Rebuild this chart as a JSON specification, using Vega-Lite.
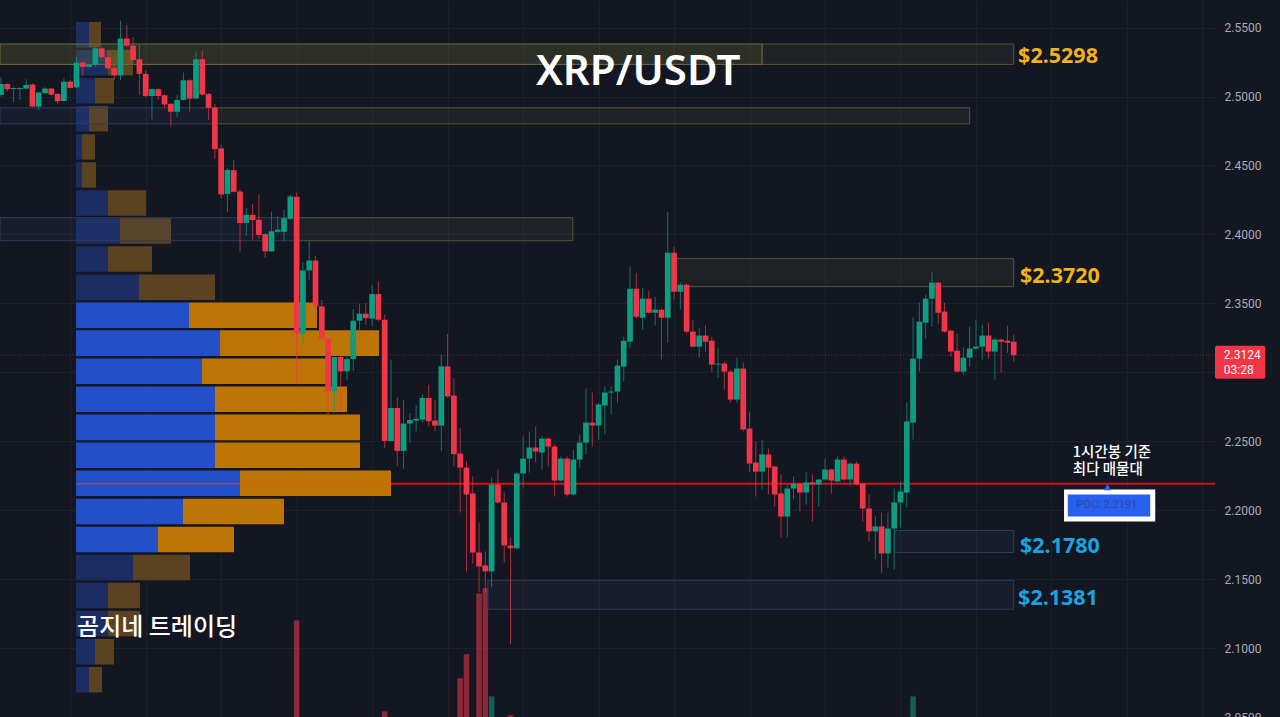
{
  "$schema": "https://vega.github.io/schema/vega-lite/v6.json",
  "width": 1215,
  "height": 717,
  "autosize": {"type": "none"},
  "padding": {"left": 0, "top": 0, "right": 65, "bottom": 0},
  "background": "#131722",
  "config": {"view": {"stroke": null}},
  "datasets": {
    "candles": [
      {"i":0,"o":2.5012,"h":2.5140,"l":2.4999,"c":2.5091,"d":"up"},
      {"i":1,"o":2.5091,"h":2.5096,"l":2.5036,"c":2.5053,"d":"down"},
      {"i":2,"o":2.5055,"h":2.5067,"l":2.4956,"c":2.5062,"d":"up"},
      {"i":3,"o":2.5055,"h":2.5067,"l":2.4975,"c":2.5062,"d":"up"},
      {"i":4,"o":2.5058,"h":2.5125,"l":2.5053,"c":2.5084,"d":"up"},
      {"i":5,"o":2.5087,"h":2.5096,"l":2.4922,"c":2.4927,"d":"down"},
      {"i":6,"o":2.4927,"h":2.5036,"l":2.4903,"c":2.5029,"d":"up"},
      {"i":7,"o":2.5024,"h":2.5067,"l":2.5019,"c":2.5058,"d":"up"},
      {"i":8,"o":2.5058,"h":2.5065,"l":2.5007,"c":2.5014,"d":"down"},
      {"i":9,"o":2.5019,"h":2.5024,"l":2.4947,"c":2.4966,"d":"down"},
      {"i":10,"o":2.4968,"h":2.5132,"l":2.4963,"c":2.5108,"d":"up"},
      {"i":11,"o":2.5108,"h":2.5120,"l":2.5058,"c":2.5062,"d":"down"},
      {"i":12,"o":2.5067,"h":2.5289,"l":2.5060,"c":2.5246,"d":"up"},
      {"i":13,"o":2.5246,"h":2.5256,"l":2.5149,"c":2.5215,"d":"down"},
      {"i":14,"o":2.5215,"h":2.5236,"l":2.5210,"c":2.5229,"d":"up"},
      {"i":15,"o":2.5229,"h":2.5362,"l":2.5217,"c":2.5350,"d":"up"},
      {"i":16,"o":2.5350,"h":2.5357,"l":2.5277,"c":2.5285,"d":"down"},
      {"i":17,"o":2.5285,"h":2.5338,"l":2.5193,"c":2.5205,"d":"down"},
      {"i":18,"o":2.5207,"h":2.5229,"l":2.5120,"c":2.5154,"d":"down"},
      {"i":19,"o":2.5154,"h":2.5550,"l":2.5120,"c":2.5420,"d":"up"},
      {"i":20,"o":2.5420,"h":2.5519,"l":2.5362,"c":2.5369,"d":"down"},
      {"i":21,"o":2.5369,"h":2.5430,"l":2.5246,"c":2.5265,"d":"down"},
      {"i":22,"o":2.5270,"h":2.5374,"l":2.5012,"c":2.5164,"d":"down"},
      {"i":23,"o":2.5164,"h":2.5193,"l":2.4995,"c":2.5004,"d":"down"},
      {"i":24,"o":2.5004,"h":2.5058,"l":2.4835,"c":2.5053,"d":"up"},
      {"i":25,"o":2.5053,"h":2.5058,"l":2.4975,"c":2.5004,"d":"down"},
      {"i":26,"o":2.5009,"h":2.5014,"l":2.4915,"c":2.4942,"d":"down"},
      {"i":27,"o":2.4947,"h":2.4951,"l":2.4782,"c":2.4889,"d":"down"},
      {"i":28,"o":2.4889,"h":2.5012,"l":2.4850,"c":2.4975,"d":"up"},
      {"i":29,"o":2.4975,"h":2.5174,"l":2.4971,"c":2.5118,"d":"up"},
      {"i":30,"o":2.5118,"h":2.5125,"l":2.4891,"c":2.4985,"d":"down"},
      {"i":31,"o":2.4985,"h":2.5326,"l":2.4980,"c":2.5270,"d":"up"},
      {"i":32,"o":2.5270,"h":2.5333,"l":2.5007,"c":2.5014,"d":"down"},
      {"i":33,"o":2.5019,"h":2.5024,"l":2.4831,"c":2.4918,"d":"down"},
      {"i":34,"o":2.4920,"h":2.4947,"l":2.4546,"c":2.4618,"d":"down"},
      {"i":35,"o":2.4623,"h":2.4652,"l":2.4263,"c":2.4290,"d":"down"},
      {"i":36,"o":2.4294,"h":2.4480,"l":2.4162,"c":2.4468,"d":"up"},
      {"i":37,"o":2.4466,"h":2.4541,"l":2.4304,"c":2.4309,"d":"down"},
      {"i":38,"o":2.4311,"h":2.4328,"l":2.3877,"c":2.4082,"d":"down"},
      {"i":39,"o":2.4084,"h":2.4191,"l":2.3990,"c":2.4142,"d":"up"},
      {"i":40,"o":2.4142,"h":2.4222,"l":2.3961,"c":2.4104,"d":"down"},
      {"i":41,"o":2.4106,"h":2.4292,"l":2.3966,"c":2.3997,"d":"down"},
      {"i":42,"o":2.4002,"h":2.4010,"l":2.3828,"c":2.3877,"d":"down"},
      {"i":43,"o":2.3877,"h":2.4166,"l":2.3872,"c":2.4022,"d":"up"},
      {"i":44,"o":2.4019,"h":2.4130,"l":2.4010,"c":2.4034,"d":"up"},
      {"i":45,"o":2.4019,"h":2.4179,"l":2.3949,"c":2.4118,"d":"up"},
      {"i":46,"o":2.4113,"h":2.4287,"l":2.4106,"c":2.4275,"d":"up"},
      {"i":47,"o":2.4273,"h":2.4302,"l":2.2925,"c":2.3280,"d":"down"},
      {"i":48,"o":2.3278,"h":2.3797,"l":2.3200,"c":2.3739,"d":"up"},
      {"i":49,"o":2.3739,"h":2.3954,"l":2.3671,"c":2.3811,"d":"up"},
      {"i":50,"o":2.3811,"h":2.3845,"l":2.3466,"c":2.3478,"d":"down"},
      {"i":51,"o":2.3478,"h":2.3526,"l":2.3237,"c":2.3244,"d":"down"},
      {"i":52,"o":2.3244,"h":2.3249,"l":2.2681,"c":2.2862,"d":"down"},
      {"i":53,"o":2.2862,"h":2.3111,"l":2.2705,"c":2.3111,"d":"up"},
      {"i":54,"o":2.3111,"h":2.3116,"l":2.2717,"c":2.3007,"d":"down"},
      {"i":55,"o":2.3007,"h":2.3121,"l":2.2947,"c":2.3096,"d":"up"},
      {"i":56,"o":2.3096,"h":2.3459,"l":2.3007,"c":2.3374,"d":"up"},
      {"i":57,"o":2.3374,"h":2.3497,"l":2.3237,"c":2.3425,"d":"up"},
      {"i":58,"o":2.3425,"h":2.3502,"l":2.3345,"c":2.3393,"d":"down"},
      {"i":59,"o":2.3389,"h":2.3635,"l":2.3333,"c":2.3567,"d":"up"},
      {"i":60,"o":2.3567,"h":2.3659,"l":2.3369,"c":2.3381,"d":"down"},
      {"i":61,"o":2.3381,"h":2.3418,"l":2.2452,"c":2.2502,"d":"down"},
      {"i":62,"o":2.2502,"h":2.3092,"l":2.2500,"c":2.2741,"d":"up"},
      {"i":63,"o":2.2741,"h":2.2819,"l":2.2319,"c":2.2430,"d":"down"},
      {"i":64,"o":2.2430,"h":2.2797,"l":2.2300,"c":2.2628,"d":"up"},
      {"i":65,"o":2.2628,"h":2.2705,"l":2.2488,"c":2.2654,"d":"up"},
      {"i":66,"o":2.2650,"h":2.2761,"l":2.2572,"c":2.2662,"d":"up"},
      {"i":67,"o":2.2657,"h":2.2838,"l":2.2638,"c":2.2814,"d":"up"},
      {"i":68,"o":2.2814,"h":2.2910,"l":2.2609,"c":2.2645,"d":"down"},
      {"i":69,"o":2.2650,"h":2.2802,"l":2.2572,"c":2.2613,"d":"down"},
      {"i":70,"o":2.2613,"h":2.3128,"l":2.2427,"c":2.3043,"d":"up"},
      {"i":71,"o":2.3043,"h":2.3278,"l":2.2814,"c":2.2826,"d":"down"},
      {"i":72,"o":2.2831,"h":2.2959,"l":2.2319,"c":2.2406,"d":"down"},
      {"i":73,"o":2.2411,"h":2.2599,"l":2.1983,"c":2.2309,"d":"down"},
      {"i":74,"o":2.2309,"h":2.2353,"l":2.1556,"c":2.2114,"d":"down"},
      {"i":75,"o":2.2121,"h":2.2244,"l":2.1614,"c":2.1693,"d":"down"},
      {"i":76,"o":2.1693,"h":2.1911,"l":2.1404,"c":2.1592,"d":"down"},
      {"i":77,"o":2.1599,"h":2.1701,"l":2.1404,"c":2.1556,"d":"down"},
      {"i":78,"o":2.1556,"h":2.2237,"l":2.1440,"c":2.2186,"d":"up"},
      {"i":79,"o":2.2186,"h":2.2295,"l":2.2049,"c":2.2056,"d":"down"},
      {"i":80,"o":2.2056,"h":2.2128,"l":2.1621,"c":2.1744,"d":"down"},
      {"i":81,"o":2.1744,"h":2.1802,"l":2.1027,"c":2.1723,"d":"down"},
      {"i":82,"o":2.1723,"h":2.2273,"l":2.1715,"c":2.2266,"d":"up"},
      {"i":83,"o":2.2266,"h":2.2534,"l":2.2164,"c":2.2374,"d":"up"},
      {"i":84,"o":2.2374,"h":2.2570,"l":2.2273,"c":2.2454,"d":"up"},
      {"i":85,"o":2.2454,"h":2.2606,"l":2.2346,"c":2.2425,"d":"down"},
      {"i":86,"o":2.2418,"h":2.2534,"l":2.2295,"c":2.2519,"d":"up"},
      {"i":87,"o":2.2519,"h":2.2527,"l":2.2317,"c":2.2461,"d":"down"},
      {"i":88,"o":2.2461,"h":2.2476,"l":2.2099,"c":2.2215,"d":"down"},
      {"i":89,"o":2.2215,"h":2.2389,"l":2.2208,"c":2.2374,"d":"up"},
      {"i":90,"o":2.2374,"h":2.2389,"l":2.2099,"c":2.2114,"d":"down"},
      {"i":91,"o":2.2114,"h":2.2440,"l":2.2106,"c":2.2367,"d":"up"},
      {"i":92,"o":2.2367,"h":2.2548,"l":2.2309,"c":2.2490,"d":"up"},
      {"i":93,"o":2.2490,"h":2.2882,"l":2.2404,"c":2.2635,"d":"up"},
      {"i":94,"o":2.2635,"h":2.2853,"l":2.2461,"c":2.2614,"d":"down"},
      {"i":95,"o":2.2614,"h":2.2780,"l":2.2512,"c":2.2766,"d":"up"},
      {"i":96,"o":2.2759,"h":2.2896,"l":2.2548,"c":2.2853,"d":"up"},
      {"i":97,"o":2.2853,"h":2.2896,"l":2.2693,"c":2.2860,"d":"up"},
      {"i":98,"o":2.2860,"h":2.3092,"l":2.2780,"c":2.3048,"d":"up"},
      {"i":99,"o":2.3041,"h":2.3258,"l":2.2932,"c":2.3229,"d":"up"},
      {"i":100,"o":2.3222,"h":2.3766,"l":2.3179,"c":2.3606,"d":"up"},
      {"i":101,"o":2.3606,"h":2.3722,"l":2.3389,"c":2.3403,"d":"down"},
      {"i":102,"o":2.3396,"h":2.3613,"l":2.3309,"c":2.3534,"d":"up"},
      {"i":103,"o":2.3534,"h":2.3592,"l":2.3425,"c":2.3432,"d":"down"},
      {"i":104,"o":2.3432,"h":2.3548,"l":2.3338,"c":2.3454,"d":"up"},
      {"i":105,"o":2.3454,"h":2.3461,"l":2.3092,"c":2.3396,"d":"down"},
      {"i":106,"o":2.3396,"h":2.4164,"l":2.3215,"c":2.3867,"d":"up"},
      {"i":107,"o":2.3867,"h":2.3910,"l":2.3527,"c":2.3584,"d":"down"},
      {"i":108,"o":2.3584,"h":2.3650,"l":2.3454,"c":2.3635,"d":"up"},
      {"i":109,"o":2.3635,"h":2.3642,"l":2.3280,"c":2.3295,"d":"down"},
      {"i":110,"o":2.3295,"h":2.3382,"l":2.3180,"c":2.3186,"d":"down"},
      {"i":111,"o":2.3186,"h":2.3324,"l":2.3106,"c":2.3266,"d":"up"},
      {"i":112,"o":2.3266,"h":2.3338,"l":2.3150,"c":2.3222,"d":"down"},
      {"i":113,"o":2.3229,"h":2.3258,"l":2.3005,"c":2.3056,"d":"down"},
      {"i":114,"o":2.3056,"h":2.3179,"l":2.2961,"c":2.3063,"d":"up"},
      {"i":115,"o":2.3063,"h":2.3077,"l":2.2874,"c":2.3005,"d":"down"},
      {"i":116,"o":2.3005,"h":2.3019,"l":2.2780,"c":2.2802,"d":"down"},
      {"i":117,"o":2.2802,"h":2.3106,"l":2.2780,"c":2.3027,"d":"up"},
      {"i":118,"o":2.3027,"h":2.3070,"l":2.2570,"c":2.2585,"d":"down"},
      {"i":119,"o":2.2592,"h":2.2715,"l":2.2280,"c":2.2338,"d":"down"},
      {"i":120,"o":2.2346,"h":2.2498,"l":2.2099,"c":2.2280,"d":"down"},
      {"i":121,"o":2.2280,"h":2.2512,"l":2.2150,"c":2.2404,"d":"up"},
      {"i":122,"o":2.2404,"h":2.2447,"l":2.2114,"c":2.2309,"d":"down"},
      {"i":123,"o":2.2317,"h":2.2320,"l":2.2027,"c":2.2114,"d":"down"},
      {"i":124,"o":2.2121,"h":2.2259,"l":2.1802,"c":2.1954,"d":"down"},
      {"i":125,"o":2.1954,"h":2.2186,"l":2.1802,"c":2.2157,"d":"up"},
      {"i":126,"o":2.2157,"h":2.2244,"l":2.2078,"c":2.2193,"d":"up"},
      {"i":127,"o":2.2193,"h":2.2200,"l":2.1991,"c":2.2128,"d":"down"},
      {"i":128,"o":2.2128,"h":2.2280,"l":2.2041,"c":2.2201,"d":"up"},
      {"i":129,"o":2.2201,"h":2.2259,"l":2.1918,"c":2.2186,"d":"down"},
      {"i":130,"o":2.2186,"h":2.2230,"l":2.2027,"c":2.2222,"d":"up"},
      {"i":131,"o":2.2222,"h":2.2374,"l":2.2215,"c":2.2295,"d":"up"},
      {"i":132,"o":2.2295,"h":2.2302,"l":2.2121,"c":2.2215,"d":"down"},
      {"i":133,"o":2.2208,"h":2.2389,"l":2.2208,"c":2.2367,"d":"up"},
      {"i":134,"o":2.2367,"h":2.2389,"l":2.2215,"c":2.2222,"d":"down"},
      {"i":135,"o":2.2222,"h":2.2346,"l":2.2172,"c":2.2338,"d":"up"},
      {"i":136,"o":2.2338,"h":2.2353,"l":2.2179,"c":2.2186,"d":"down"},
      {"i":137,"o":2.2193,"h":2.2200,"l":2.1918,"c":2.2012,"d":"down"},
      {"i":138,"o":2.2012,"h":2.2114,"l":2.1773,"c":2.1846,"d":"down"},
      {"i":139,"o":2.1846,"h":2.1954,"l":2.1643,"c":2.1882,"d":"up"},
      {"i":140,"o":2.1882,"h":2.1983,"l":2.1541,"c":2.1686,"d":"down"},
      {"i":141,"o":2.1686,"h":2.1983,"l":2.1585,"c":2.1867,"d":"up"},
      {"i":142,"o":2.1867,"h":2.2157,"l":2.1570,"c":2.2056,"d":"up"},
      {"i":143,"o":2.2056,"h":2.2208,"l":2.1875,"c":2.2135,"d":"up"},
      {"i":144,"o":2.2128,"h":2.2780,"l":2.2020,"c":2.2643,"d":"up"},
      {"i":145,"o":2.2635,"h":2.3396,"l":2.2512,"c":2.3099,"d":"up"},
      {"i":146,"o":2.3099,"h":2.3505,"l":2.3005,"c":2.3367,"d":"up"},
      {"i":147,"o":2.3360,"h":2.3563,"l":2.3244,"c":2.3534,"d":"up"},
      {"i":148,"o":2.3534,"h":2.3729,"l":2.3331,"c":2.3650,"d":"up"},
      {"i":149,"o":2.3650,"h":2.3655,"l":2.3353,"c":2.3432,"d":"down"},
      {"i":150,"o":2.3440,"h":2.3505,"l":2.3287,"c":2.3295,"d":"down"},
      {"i":151,"o":2.3302,"h":2.3309,"l":2.3114,"c":2.3150,"d":"down"},
      {"i":152,"o":2.3157,"h":2.3280,"l":2.2998,"c":2.3005,"d":"down"},
      {"i":153,"o":2.3005,"h":2.3179,"l":2.2983,"c":2.3106,"d":"up"},
      {"i":154,"o":2.3106,"h":2.3331,"l":2.3041,"c":2.3172,"d":"up"},
      {"i":155,"o":2.3172,"h":2.3382,"l":2.3164,"c":2.3186,"d":"up"},
      {"i":156,"o":2.3186,"h":2.3345,"l":2.3092,"c":2.3266,"d":"up"},
      {"i":157,"o":2.3266,"h":2.3360,"l":2.3099,"c":2.3150,"d":"down"},
      {"i":158,"o":2.3150,"h":2.3251,"l":2.2947,"c":2.3237,"d":"up"},
      {"i":159,"o":2.3237,"h":2.3244,"l":2.2998,"c":2.3222,"d":"down"},
      {"i":160,"o":2.3229,"h":2.3338,"l":2.3142,"c":2.3215,"d":"down"},
      {"i":161,"o":2.3222,"h":2.3273,"l":2.3077,"c":2.3124,"d":"down"}
    ]
  },
  "encoding": {
    "x": {
      "field": "i",
      "type": "quantitative",
      "scale": {"domain": [-0.159, 193], "nice": false, "zero": false, "padding": 0},
      "axis": {
        "title": null,
        "labels": false,
        "ticks": false,
        "domain": false,
        "grid": true,
        "gridColor": "#1d212c",
        "values": [11, 23, 35, 47, 59, 71, 83, 95, 107, 119, 131, 143, 155, 167, 179, 191]
      }
    },
    "y": {
      "field": "p",
      "type": "quantitative",
      "scale": {"domain": [2.05, 2.57], "nice": false, "zero": false, "padding": 0},
      "axis": {
        "orient": "right",
        "title": null,
        "domain": false,
        "ticks": false,
        "grid": true,
        "gridColor": "#1d212c",
        "labelColor": "#a9acb5",
        "labelFont": "Roboto",
        "labelFontSize": 12,
        "labelPadding": 9,
        "labelBound": false,
        "format": ".4f",
        "labelExpr": "datum.label == '2.3000' ? '' : datum.label",
        "values": [2.05, 2.1, 2.15, 2.2, 2.25, 2.3, 2.35, 2.4, 2.45, 2.5, 2.55]
      }
    }
  },
  "layer": [
    {
      "data": {
        "values": [
          {"i": 47, "p": 2.1201, "p2": 2.05, "d": "down"},
          {"i": 61, "p": 2.0541, "p2": 2.05, "d": "down"},
          {"i": 73, "p": 2.0781, "p2": 2.05, "d": "down"},
          {"i": 74, "p": 2.0955, "p2": 2.05, "d": "down"},
          {"i": 76, "p": 2.1396, "p2": 2.05, "d": "down"},
          {"i": 77, "p": 2.1433, "p2": 2.05, "d": "down"},
          {"i": 78, "p": 2.065, "p2": 2.05, "d": "up"},
          {"i": 81, "p": 2.0513, "p2": 2.05, "d": "down"},
          {"i": 145, "p": 2.065, "p2": 2.05, "d": "up"}
        ]
      },
      "mark": {"type": "bar", "size": 5.5, "opacity": 0.55},
      "encoding": {
        "y2": {"field": "p2"},
        "color": {
          "field": "d",
          "type": "nominal",
          "legend": null,
          "scale": {
            "domain": ["up", "down", "vaBuy", "vaSell", "buy", "sell"],
            "range": ["#0f9d82", "#f2364a", "#2350c8", "#bd7605", "#1b2d63", "#5b4220"]
          }
        }
      }
    },
    {
      "data": {"values": [{"i": -0.159, "i2": 193, "p": 2.3124}]},
      "mark": {"type": "rule", "color": "#6b2a36", "strokeWidth": 1, "strokeDash": [1, 2]},
      "encoding": {"x2": {"field": "i2"}}
    },
    {
      "data": {"values": [{"i": 62, "i2": 193, "p": 2.2191}]},
      "mark": {"type": "rule", "color": "#d40f18", "strokeWidth": 2},
      "encoding": {"x2": {"field": "i2"}}
    },
    {
      "data": {
        "values": [
          {"p": 2.5541, "p2": 2.5356, "i": 11.92, "i2": 13.99, "part": "buy"},
          {"p": 2.5541, "p2": 2.5356, "i": 13.99, "i2": 15.9, "part": "sell"},
          {"p": 2.5338, "p2": 2.5153, "i": 11.92, "i2": 17.01, "part": "buy"},
          {"p": 2.5338, "p2": 2.5153, "i": 17.01, "i2": 20.99, "part": "sell"},
          {"p": 2.5134, "p2": 2.4949, "i": 11.92, "i2": 14.94, "part": "buy"},
          {"p": 2.5134, "p2": 2.4949, "i": 14.94, "i2": 17.97, "part": "sell"},
          {"p": 2.4931, "p2": 2.4746, "i": 11.92, "i2": 13.99, "part": "buy"},
          {"p": 2.4931, "p2": 2.4746, "i": 13.99, "i2": 17.01, "part": "sell"},
          {"p": 2.4727, "p2": 2.4542, "i": 11.92, "i2": 12.88, "part": "buy"},
          {"p": 2.4727, "p2": 2.4542, "i": 12.88, "i2": 14.94, "part": "sell"},
          {"p": 2.4524, "p2": 2.4339, "i": 11.92, "i2": 12.88, "part": "buy"},
          {"p": 2.4524, "p2": 2.4339, "i": 12.88, "i2": 15.1, "part": "sell"},
          {"p": 2.4321, "p2": 2.4136, "i": 11.92, "i2": 17.01, "part": "buy"},
          {"p": 2.4321, "p2": 2.4136, "i": 17.01, "i2": 23.05, "part": "sell"},
          {"p": 2.4117, "p2": 2.3932, "i": 11.92, "i2": 18.92, "part": "buy"},
          {"p": 2.4117, "p2": 2.3932, "i": 18.92, "i2": 27.03, "part": "sell"},
          {"p": 2.3914, "p2": 2.3729, "i": 11.92, "i2": 17.01, "part": "buy"},
          {"p": 2.3914, "p2": 2.3729, "i": 17.01, "i2": 24.01, "part": "sell"},
          {"p": 2.371, "p2": 2.3525, "i": 11.92, "i2": 21.94, "part": "buy"},
          {"p": 2.371, "p2": 2.3525, "i": 21.94, "i2": 34.02, "part": "sell"},
          {"p": 2.3507, "p2": 2.3322, "i": 11.92, "i2": 29.89, "part": "vaBuy"},
          {"p": 2.3507, "p2": 2.3322, "i": 29.89, "i2": 50.24, "part": "vaSell"},
          {"p": 2.3304, "p2": 2.3119, "i": 11.92, "i2": 34.82, "part": "vaBuy"},
          {"p": 2.3304, "p2": 2.3119, "i": 34.82, "i2": 60.1, "part": "vaSell"},
          {"p": 2.31, "p2": 2.2915, "i": 11.92, "i2": 31.96, "part": "vaBuy"},
          {"p": 2.31, "p2": 2.2915, "i": 31.96, "i2": 51.67, "part": "vaSell"},
          {"p": 2.2897, "p2": 2.2712, "i": 11.92, "i2": 34.02, "part": "vaBuy"},
          {"p": 2.2897, "p2": 2.2712, "i": 34.02, "i2": 55.01, "part": "vaSell"},
          {"p": 2.2693, "p2": 2.2508, "i": 11.92, "i2": 34.02, "part": "vaBuy"},
          {"p": 2.2693, "p2": 2.2508, "i": 34.02, "i2": 57.07, "part": "vaSell"},
          {"p": 2.249, "p2": 2.2305, "i": 11.92, "i2": 34.02, "part": "vaBuy"},
          {"p": 2.249, "p2": 2.2305, "i": 34.02, "i2": 57.07, "part": "vaSell"},
          {"p": 2.2287, "p2": 2.2102, "i": 11.92, "i2": 38, "part": "vaBuy"},
          {"p": 2.2287, "p2": 2.2102, "i": 38, "i2": 62, "part": "vaSell"},
          {"p": 2.2083, "p2": 2.1898, "i": 11.92, "i2": 28.93, "part": "vaBuy"},
          {"p": 2.2083, "p2": 2.1898, "i": 28.93, "i2": 44.99, "part": "vaSell"},
          {"p": 2.188, "p2": 2.1695, "i": 11.92, "i2": 24.96, "part": "vaBuy"},
          {"p": 2.188, "p2": 2.1695, "i": 24.96, "i2": 37.04, "part": "vaSell"},
          {"p": 2.1676, "p2": 2.1491, "i": 11.92, "i2": 20.99, "part": "buy"},
          {"p": 2.1676, "p2": 2.1491, "i": 20.99, "i2": 30.05, "part": "sell"},
          {"p": 2.1473, "p2": 2.1288, "i": 11.92, "i2": 17.01, "part": "buy"},
          {"p": 2.1473, "p2": 2.1288, "i": 17.01, "i2": 22.1, "part": "sell"},
          {"p": 2.127, "p2": 2.1085, "i": 11.92, "i2": 17.01, "part": "buy"},
          {"p": 2.127, "p2": 2.1085, "i": 17.01, "i2": 22.1, "part": "sell"},
          {"p": 2.1066, "p2": 2.0881, "i": 11.92, "i2": 14.94, "part": "buy"},
          {"p": 2.1066, "p2": 2.0881, "i": 14.94, "i2": 17.97, "part": "sell"},
          {"p": 2.0863, "p2": 2.0678, "i": 11.92, "i2": 13.99, "part": "buy"},
          {"p": 2.0863, "p2": 2.0678, "i": 13.99, "i2": 16.06, "part": "sell"}
        ]
      },
      "mark": {"type": "rect"},
      "encoding": {
        "x2": {"field": "i2"},
        "y2": {"field": "p2"},
        "color": {"field": "part", "type": "nominal", "legend": null}
      }
    },
    {
      "data": {"values": [{"i": 11.92, "i2": 62, "p": 2.2191}]},
      "mark": {"type": "rule", "color": "#f0500a", "strokeWidth": 1.5, "opacity": 0.5},
      "encoding": {"x2": {"field": "i2"}}
    },
    {
      "data": {
        "values": [
          {"i": -0.159, "i2": 121, "p": 2.5381, "p2": 2.5233, "kind": "strong"},
          {"i": 121, "i2": 161, "p": 2.5381, "p2": 2.5233, "kind": "olive"},
          {"i": -0.159, "i2": 34, "p": 2.4918, "p2": 2.4802, "kind": "blue"},
          {"i": 34, "i2": 154, "p": 2.4918, "p2": 2.4802, "kind": "olive"},
          {"i": -0.159, "i2": 47, "p": 2.4121, "p2": 2.3954, "kind": "blue"},
          {"i": 47, "i2": 90.9, "p": 2.4121, "p2": 2.3954, "kind": "olive"},
          {"i": 107.3, "i2": 161, "p": 2.3824, "p2": 2.3621, "kind": "olive"},
          {"i": 142.1, "i2": 161, "p": 2.1853, "p2": 2.1693, "kind": "blue"},
          {"i": 77.4, "i2": 161, "p": 2.1491, "p2": 2.1281, "kind": "blue"}
        ]
      },
      "mark": {"type": "rect", "strokeWidth": 1},
      "encoding": {
        "x2": {"field": "i2"},
        "y2": {"field": "p2"},
        "fill": {
          "field": "kind",
          "type": "nominal",
          "legend": null,
          "scale": {
            "domain": ["strong", "olive", "blue"],
            "range": ["rgba(135,135,50,0.22)", "rgba(130,130,70,0.11)", "rgba(70,100,170,0.09)"]
          }
        },
        "stroke": {
          "field": "kind",
          "type": "nominal",
          "legend": null,
          "scale": {
            "domain": ["strong", "olive", "blue"],
            "range": ["#6d6d3c", "#55553a", "#303d56"]
          }
        }
      }
    },
    {
      "data": {"name": "candles"},
      "mark": {"type": "rule", "strokeWidth": 1, "opacity": 0.7},
      "encoding": {
        "y": {"field": "l", "type": "quantitative"},
        "y2": {"field": "h"},
        "color": {"field": "d", "type": "nominal", "legend": null}
      }
    },
    {
      "data": {"name": "candles"},
      "mark": {"type": "bar", "size": 5.7},
      "encoding": {
        "y": {"field": "o", "type": "quantitative"},
        "y2": {"field": "c"},
        "color": {"field": "d", "type": "nominal", "legend": null}
      }
    },
    {
      "data": {"values": [{"i": 193, "i2": 201, "p": 2.3193, "p2": 2.2954}]},
      "mark": {"type": "rect", "color": "#f23645", "cornerRadius": 2},
      "encoding": {"x2": {"field": "i2"}, "y2": {"field": "p2"}}
    },
    {
      "data": {
        "values": [
          {"i": 194.4, "p": 2.3124, "label": "2.3124"},
          {"i": 194.4, "p": 2.3019, "label": "03:28"}
        ]
      },
      "mark": {"type": "text", "align": "left", "baseline": "middle", "font": "Roboto", "fontSize": 12, "color": "#f5f5f5"},
      "encoding": {"text": {"field": "label"}}
    },
    {
      "data": {"values": [{"i": 169, "i2": 183.5, "p": 2.215, "p2": 2.1918}]},
      "mark": {"type": "rect", "color": "#ffffff"},
      "encoding": {"x2": {"field": "i2"}, "y2": {"field": "p2"}}
    },
    {
      "data": {"values": [{"i": 169.6, "i2": 182.7, "p": 2.2114, "p2": 2.1954}]},
      "mark": {"type": "rect", "color": "#2860f0"},
      "encoding": {"x2": {"field": "i2"}, "y2": {"field": "p2"}}
    },
    {
      "data": {"values": [{"i": 175.9, "p": 2.2168}]},
      "mark": {"type": "point", "shape": "triangle-up", "filled": true, "color": "#2962ff", "size": 55, "opacity": 1}
    },
    {
      "data": {"values": [{"i": 175.8, "p": 2.2041, "label": "POC: 2.2191"}]},
      "mark": {"type": "text", "align": "center", "baseline": "middle", "font": "Roboto", "fontSize": 11, "color": "#2f4a9c"},
      "encoding": {"text": {"field": "label"}}
    },
    {
      "data": {
        "values": [
          {"i": 170.4, "p": 2.2418, "label": "1시간봉 기준"},
          {"i": 170.4, "p": 2.2288, "label": "최다 매물대"}
        ]
      },
      "mark": {"type": "text", "align": "left", "baseline": "middle", "font": "Noto Sans CJK KR", "fontSize": 14.5, "fontWeight": 500, "color": "#ffffff"},
      "encoding": {"text": {"field": "label"}}
    },
    {
      "data": {
        "values": [
          {"i": 161.7, "p": 2.5284, "label": "$2.5298"},
          {"i": 162, "p": 2.3694, "label": "$2.3720"}
        ]
      },
      "mark": {"type": "text", "align": "left", "baseline": "middle", "font": "Noto Sans", "fontWeight": 700, "fontSize": 21.5, "color": "#f0b21c"},
      "encoding": {"text": {"field": "label"}}
    },
    {
      "data": {
        "values": [
          {"i": 162, "p": 2.173, "label": "$2.1780"},
          {"i": 161.7, "p": 2.1353, "label": "$2.1381"}
        ]
      },
      "mark": {"type": "text", "align": "left", "baseline": "middle", "font": "Noto Sans", "fontWeight": 700, "fontSize": 21.5, "color": "#1ba3e0"},
      "encoding": {"text": {"field": "label"}}
    },
    {
      "data": {"values": [{"i": 101.3, "p": 2.518, "label": "XRP/USDT"}]},
      "mark": {"type": "text", "align": "center", "baseline": "middle", "font": "Noto Sans", "fontWeight": 600, "fontSize": 42, "color": "#ffffff"},
      "encoding": {"text": {"field": "label"}}
    },
    {
      "data": {"values": [{"i": 12.1, "p": 2.1143, "label": "곰지네 트레이딩"}]},
      "mark": {"type": "text", "align": "left", "baseline": "middle", "font": "Noto Sans CJK KR", "fontWeight": 500, "fontSize": 24, "color": "#ffffff"},
      "encoding": {"text": {"field": "label"}}
    }
  ]
}
